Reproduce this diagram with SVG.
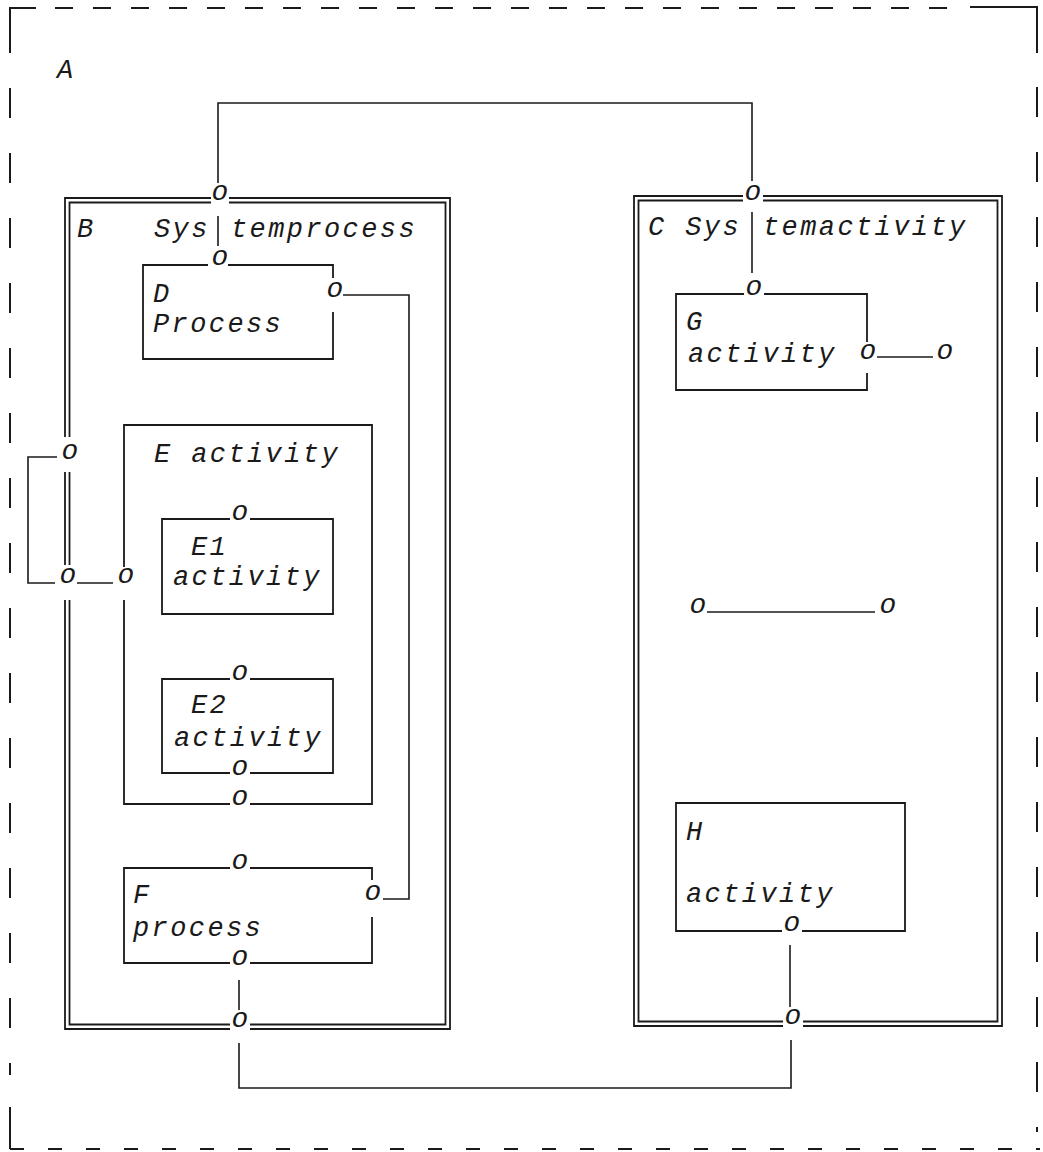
<svg xmlns="http://www.w3.org/2000/svg" width="1043" height="1152" viewBox="0 0 1043 1152">
<style>
.ln{stroke:#1a1a1a;stroke-width:1.8;fill:none}
.cn{stroke:#1a1a1a;stroke-width:1.6;fill:none}
.fr{stroke:#1a1a1a;stroke-width:2;fill:none}
.t{font-family:"Liberation Mono","DejaVu Sans Mono",monospace;font-style:italic;font-size:27px;letter-spacing:2.4px;fill:#1a1a1a}
.p{font-family:"Liberation Mono","DejaVu Sans Mono",monospace;font-style:italic;font-size:28px;fill:#1a1a1a;text-anchor:middle}
</style>
<rect width="1043" height="1152" fill="#ffffff"/>
<g id="A">
<path class="fr" d="M10 53 V8 H36"/>
<line class="fr" x1="55" y1="8" x2="965" y2="8" stroke-dasharray="18 20"/>
<path class="fr" d="M970 7 H1037 V53"/>
<line class="fr" x1="1037" y1="87" x2="1037" y2="1132" stroke-dasharray="30 35"/>
<line class="fr" x1="10" y1="88" x2="10" y2="1075" stroke-dasharray="30 35"/>
<path class="fr" d="M10 1107 V1149"/>
<line class="fr" x1="10" y1="1149" x2="1040" y2="1149" stroke-dasharray="14 24"/>
<text class="t" x="57" y="78">A</text>
</g>
<g id="B">
<path class="ln" d="M65 437 V198 H211 M229 198 H450 V1029 H250 M230 1029 H65 V600 M65 565 V472"/>
<path class="ln" d="M69.5 437 V202.5 H211 M229 202.5 H445.5 V1024.5 H250 M230 1024.5 H69.5 V600 M69.5 565 V472"/>
<text class="t" x="77" y="237">B</text>
<text class="t" x="154" y="237">Sys</text>
<text class="t" x="231" y="237">temprocess</text>
<text class="p" x="220" y="200">o</text>
<text class="p" x="70" y="459">o</text>
<text class="p" x="68" y="583">o</text>
<text class="p" x="240" y="1027">o</text>
</g>
<g id="D">
<path class="ln" d="M208 265 H143 V359 H333 V312 M333 278 V265 H228"/>
<text class="t" x="153" y="302">D</text>
<text class="t" x="153" y="332">Process</text>
<text class="p" x="220" y="265">o</text>
<text class="p" x="335" y="297">o</text>
</g>
<g id="E">
<path class="ln" d="M124 567 V425 H372 V804 H250 M230 804 H124 V600"/>
<text class="t" x="154" y="462">E activity</text>
<text class="p" x="126" y="583">o</text>
<text class="p" x="240" y="805">o</text>
</g>
<g id="E1">
<path class="ln" d="M230 519 H162 V614 H333 V519 H250"/>
<text class="t" x="191" y="555">E1</text>
<text class="t" x="173" y="585">activity</text>
<text class="p" x="240" y="520">o</text>
</g>
<g id="E2">
<path class="ln" d="M230 679 H162 V773 H230 M250 773 H333 V679 H250"/>
<text class="t" x="191" y="713">E2</text>
<text class="t" x="174" y="746">activity</text>
<text class="p" x="240" y="775">o</text>
<text class="p" x="240" y="680">o</text>
</g>
<g id="F">
<path class="ln" d="M230 868 H124 V963 H230 M250 963 H372 V917 M372 880 V868 H250"/>
<text class="t" x="133" y="903">F</text>
<text class="t" x="133" y="936">process</text>
<text class="p" x="240" y="869">o</text>
<text class="p" x="373" y="900">o</text>
<text class="p" x="240" y="965">o</text>
</g>
<g id="C">
<path class="ln" d="M743 196 H634 V1026 H783 M803 1026 H1002 V196 H763"/>
<path class="ln" d="M743 200.5 H638.5 V1021.5 H783 M803 1021.5 H997.5 V200.5 H763"/>
<text class="t" x="648" y="235">C Sys</text>
<text class="t" x="763" y="235">temactivity</text>
<text class="p" x="753" y="200">o</text>
<text class="p" x="793" y="1024">o</text>
</g>
<g id="G">
<path class="ln" d="M744 294 H676 V390 H867 V373 M867 342 V294 H764"/>
<text class="t" x="686" y="330">G</text>
<text class="t" x="688" y="362">activity</text>
<text class="p" x="754" y="295">o</text>
<text class="p" x="868" y="359">o</text>
</g>
<g id="H">
<path class="ln" d="M782 931 H676 V803 H905 V931 H802"/>
<text class="t" x="686" y="840">H</text>
<text class="t" x="686" y="902">activity</text>
<text class="p" x="792" y="931">o</text>
</g>
<g id="connectors">
<path class="cn" d="M218 183 V103 H752 V181"/>
<path class="cn" d="M218 216 V246"/>
<path class="cn" d="M752 212 V273"/>
<path class="cn" d="M343 295 H409 V899 H383"/>
<path class="cn" d="M877 357 H933"/>
<text class="p" x="945" y="359">o</text>
<path class="cn" d="M57 457 H28 V583 H55"/>
<path class="cn" d="M77 583 H113"/>
<path class="cn" d="M239 980 V1010"/>
<path class="cn" d="M790 945 V1007"/>
<path class="cn" d="M239 1043 V1088 H791 V1040"/>
<path class="cn" d="M707 612 H875"/>
<text class="p" x="698" y="613">o</text>
<text class="p" x="888" y="613">o</text>
</g>
</svg>
